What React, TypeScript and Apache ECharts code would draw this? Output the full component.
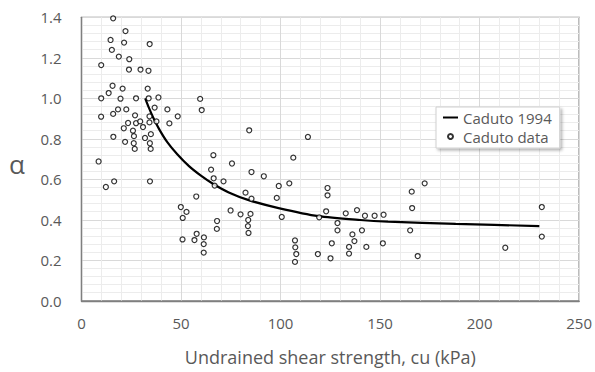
import React, { useEffect, useRef } from "react";
import * as echarts from "echarts";

// Caduto data: undrained shear strength cu (kPa) and adhesion factor alpha
const dataCu = [
  15.9, 22.1, 14.6, 21.4, 34.25, 15.25, 18.75, 24.0, 9.9, 23.85, 29.65, 33.65,
  15.6, 20.65, 33.25, 13.65, 9.9, 19.6, 27.4, 33.75, 38.65, 59.6, 60.4, 9.85,
  15.9, 18.35, 22.5, 26.9, 36.75, 43.15, 48.35, 34.15, 23.4, 27.4, 29.5, 34.15,
  37.65, 44.15, 21.25, 30.9, 25.85, 34.85, 16.0, 26.35, 31.9, 21.9, 26.25, 34.35,
  26.75, 34.75, 8.6, 12.25, 16.4, 34.4, 65.1, 66.4, 71.35, 66.9, 75.6, 57.65,
  49.9, 52.75, 50.85, 74.9, 68.1, 68.0, 57.85, 50.75, 56.75, 61.5, 61.4, 61.4,
  84.25, 113.75, 66.25, 106.4, 85.4, 91.6, 104.4, 99.1, 82.4, 85.4, 98.1, 123.6,
  123.6, 79.9, 84.9, 100.6, 122.9, 132.75, 138.4, 142.4, 147.25, 151.75, 119.4, 83.75,
  83.6, 83.9, 128.6, 128.6, 140.9, 136.1, 107.25, 107.4, 107.9, 107.25, 118.75, 125.1,
  125.75, 134.4, 134.4, 137.1, 143.1, 151.4, 172.4, 165.9, 166.1, 231.25, 165.1, 231.25,
  212.9, 168.9,
];
const dataAlpha = [
  1.395, 1.332, 1.288, 1.275, 1.268, 1.239, 1.206, 1.193, 1.164, 1.142, 1.142, 1.136,
  1.062, 1.048, 1.048, 1.026, 1.0, 0.998, 1.0, 1.0, 1.004, 0.997, 0.942, 0.909,
  0.923, 0.945, 0.945, 0.916, 0.954, 0.945, 0.911, 0.911, 0.878, 0.877, 0.886, 0.881,
  0.886, 0.876, 0.852, 0.858, 0.84, 0.823, 0.81, 0.813, 0.804, 0.785, 0.778, 0.778,
  0.75, 0.75, 0.688, 0.562, 0.59, 0.59, 0.648, 0.605, 0.59, 0.569, 0.678, 0.515,
  0.463, 0.439, 0.409, 0.446, 0.394, 0.355, 0.331, 0.303, 0.3, 0.313, 0.28, 0.238,
  0.842, 0.809, 0.719, 0.707, 0.636, 0.615, 0.58, 0.567, 0.534, 0.504, 0.508, 0.557,
  0.521, 0.427, 0.429, 0.414, 0.442, 0.432, 0.448, 0.42, 0.42, 0.425, 0.412, 0.399,
  0.369, 0.335, 0.384, 0.348, 0.348, 0.328, 0.298, 0.264, 0.231, 0.192, 0.231, 0.21,
  0.284, 0.266, 0.233, 0.295, 0.266, 0.284, 0.58, 0.539, 0.458, 0.463, 0.348, 0.317,
  0.262, 0.221,
];

// Caduto 1994 curve
const curveCu = [32, 34, 36, 39, 43, 48, 54, 60, 66, 74, 84, 99, 119, 140, 154, 188, 230];
const curveAlpha = [1.0, 0.95, 0.905, 0.848, 0.785, 0.725, 0.665, 0.618, 0.578, 0.535, 0.497, 0.458, 0.418, 0.399, 0.391, 0.38, 0.369];

const seriesNames = ["Caduto 1994", "Caduto data"];
const xAxisTitle = "Undrained shear strength, cu (kPa)";
const yAxisTitle = "α";

const FONT = "'Open Sans', 'Noto Sans', sans-serif";
const TEXT = "#595959";

export default function App() {
  const ref = useRef<HTMLDivElement>(null);
  useEffect(() => {
    if (!ref.current) return;
    const chart = echarts.init(ref.current, undefined, { renderer: "svg" });
    const scatterData = dataCu.map((c, i) => [c, dataAlpha[i]]);
    const lineData = curveCu.map((c, i) => [c, curveAlpha[i]]);
    chart.setOption({
      animation: false,
      backgroundColor: "#ffffff",
      textStyle: { fontFamily: FONT },
      grid: {
        left: 81.5,
        right: 13.3,
        top: 17.3,
        bottom: 71.2,
        show: true,
        borderColor: "#7f7f7f",
        borderWidth: 1.3,
        backgroundColor: "transparent",
      },
      xAxis: {
        type: "value",
        min: 0,
        max: 250,
        interval: 50,
        name: xAxisTitle,
        nameLocation: "middle",
        nameGap: 47,
        nameTextStyle: { color: TEXT, fontSize: 18, fontFamily: FONT },
        axisLine: { show: true, lineStyle: { color: "#7f7f7f", width: 1.3 } },
        axisTick: { show: false },
        axisLabel: { color: TEXT, fontSize: 15, margin: 15, fontFamily: FONT },
        splitLine: { show: true, lineStyle: { color: "#d9d9d9", width: 1 } },
        minorTick: { show: false, splitNumber: 5 },
        minorSplitLine: { show: true, lineStyle: { color: "#ececec", width: 1 } },
      },
      yAxis: {
        type: "value",
        min: 0,
        max: 1.4,
        interval: 0.2,
        axisLine: { show: true, lineStyle: { color: "#7f7f7f", width: 1.3 } },
        axisTick: { show: false },
        axisLabel: {
          color: TEXT,
          fontSize: 15,
          margin: 20,
          fontFamily: FONT,
          formatter: (v: number) => v.toFixed(1),
        },
        splitLine: { show: true, lineStyle: { color: "#d9d9d9", width: 1 } },
        minorTick: { show: false, splitNumber: 5 },
        minorSplitLine: { show: true, lineStyle: { color: "#ececec", width: 1 } },
      },
      legend: {
        orient: "vertical",
        left: 436,
        top: 107,
        padding: [3, 8, 4, 7],
        itemGap: 4,
        itemWidth: 15,
        itemHeight: 5,
        symbolKeepAspect: true,
        backgroundColor: "#ffffff",
        borderColor: "#d0d0d0",
        borderWidth: 1,
        shadowColor: "rgba(0,0,0,0.3)",
        shadowBlur: 3,
        shadowOffsetX: 2,
        shadowOffsetY: 2,
        textStyle: { color: TEXT, fontSize: 15, fontFamily: FONT },
        data: [
          { name: seriesNames[0], icon: "path://M0 0H30V4H0Z", itemStyle: { color: "#000000" } },
          { name: seriesNames[1], icon: "circle" },
        ],
      },
      graphic: [
        {
          type: "text",
          x: 17,
          y: 164,
          style: {
            text: yAxisTitle,
            fontSize: 26,
            fontFamily: FONT,
            fill: TEXT,
            align: "center",
            verticalAlign: "middle",
          },
        },
      ],
      series: [
        {
          name: seriesNames[0],
          type: "line",
          data: lineData,
          smooth: 0.25,
          symbol: "none",
          lineStyle: { color: "#000000", width: 2.2 },
          itemStyle: { color: "#000000" },
          z: 3,
        },
        {
          name: seriesNames[1],
          type: "scatter",
          data: scatterData,
          symbol: "circle",
          symbolSize: 5,
          itemStyle: { color: "#ffffff", borderColor: "#000000", borderWidth: 1.2 },
          z: 4,
        },
      ],
    });
    return () => chart.dispose();
  }, []);
  return (
    <div
      ref={ref}
      style={{ position: "fixed", left: 0, top: 0, width: 595, height: 372 }}
    />
  );
}
